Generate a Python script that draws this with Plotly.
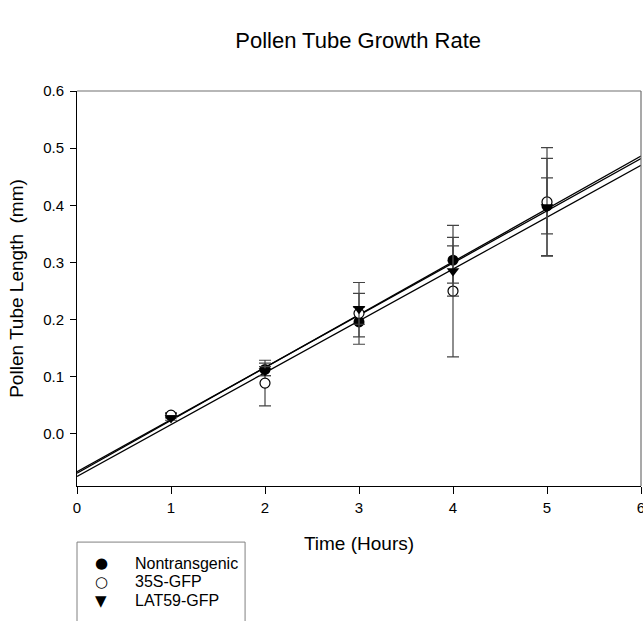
import numpy as np
import plotly.graph_objects as go

hours = [1, 2, 3, 4, 5]
nontransgenic = [0.032, 0.113, 0.196, 0.304, 0.399]
nontransgenic_err = [0.004, 0.011, 0.026, 0.040, 0.049]
gfp35s = [0.033, 0.089, 0.211, 0.250, 0.406]
gfp35s_err = [0.004, 0.040, 0.054, 0.115, 0.095]
lat59 = [0.028, 0.110, 0.219, 0.285, 0.397]
lat59_err = [0.004, 0.008, 0.027, 0.044, 0.085]

legend_names = ["Nontransgenic", "35S-GFP", "LAT59-GFP"]
legend_glyphs = ["●", "○", "▼"]

x_ticks = [0, 1, 2, 3, 4, 5, 6]
y_ticks = [0.0, 0.1, 0.2, 0.3, 0.4, 0.5, 0.6]

FONT = "Liberation Sans, Arial, sans-serif"
fig = go.Figure()

series = [
    (legend_names[0], nontransgenic, nontransgenic_err, "filled"),
    (legend_names[1], gfp35s, gfp35s_err, "open"),
    (legend_names[2], lat59, lat59_err, "tri"),
]

xfit = np.array([0, 6])
for name, ys, errs, sym in series:
    slope, icpt = np.polyfit(hours, ys, 1)
    fig.add_trace(go.Scatter(x=xfit, y=slope * xfit + icpt, mode="lines",
                             line=dict(color="black", width=1.3),
                             showlegend=False, hoverinfo="skip"))

for name, ys, errs, sym in series:
    if sym == "filled":
        marker = dict(symbol="circle", size=11, color="black")
    elif sym == "open":
        marker = dict(symbol="circle", size=10, color="white",
                      line=dict(color="black", width=1.2))
    else:
        marker = dict(symbol="triangle-down", size=11, color="black")
    fig.add_trace(go.Scatter(x=hours, y=ys, mode="markers", name=name,
                             marker=marker, showlegend=False,
                             error_y=dict(type="data", array=errs, visible=True,
                                          color="#444444", thickness=1.2, width=6)))

# Legend drawn as annotations (paper coordinates)
annotations = []
row_y = [-0.195, -0.243, -0.291]
for name, glyph, yy in zip(legend_names, legend_glyphs, row_y):
    annotations.append(dict(xref="paper", yref="paper", x=0.0426, y=yy,
                            text=glyph, showarrow=False, xanchor="center",
                            yanchor="middle",
                            font=dict(size=15, family="DejaVu Sans", color="black")))
    annotations.append(dict(xref="paper", yref="paper", x=0.0993, y=yy,
                            text=name, showarrow=False, xanchor="left",
                            yanchor="middle",
                            font=dict(size=16, family=FONT, color="black")))

fig.update_layout(
    width=643, height=621,
    margin=dict(l=77, r=2, t=91, b=135),
    paper_bgcolor="white", plot_bgcolor="white",
    font=dict(family=FONT, color="black", size=15),
    title=dict(text="Pollen Tube Growth Rate", x=0.557, xanchor="center",
               y=0.9356, yanchor="middle", font=dict(size=22, family=FONT)),
    showlegend=False,
    annotations=annotations,
    xaxis=dict(range=[0, 6], tickvals=x_ticks, showgrid=False, zeroline=False,
               automargin=False, ticklabeloverflow="allow",
               showline=True, linecolor="black", linewidth=1,
               ticks="outside", ticklen=7, tickcolor="black",
               tickfont=dict(size=15), ticklabelstandoff=1,
               title=dict(text="Time (Hours)", font=dict(size=19), standoff=21)),
    yaxis=dict(range=[-0.091, 0.6], tickvals=y_ticks, tickformat=".1f",
               showgrid=False, zeroline=False, automargin=False,
               showline=True, linecolor="black", linewidth=1,
               ticks="outside", ticklen=6, tickcolor="black",
               tickfont=dict(size=15), ticklabelstandoff=3,
               title=dict(text="Pollen Tube Length  (mm)", font=dict(size=19),
                          standoff=14)),
    shapes=[
        dict(type="line", xref="paper", yref="paper", x0=0, x1=1, y0=1, y1=1,
             line=dict(color="#707070", width=1.2)),
        dict(type="line", xref="paper", yref="paper", x0=1, x1=1, y0=0, y1=1,
             line=dict(color="#707070", width=1.2)),
        dict(type="rect", xref="paper", yref="paper", x0=0, x1=0.298,
             y0=-0.142, y1=-0.5, line=dict(color="#808080", width=1),
             fillcolor="rgba(0,0,0,0)"),
    ],
)

fig.write_html(
    "out.html",
    config={"displayModeBar": False},
    post_script="document.body.style.margin='0';document.body.style.overflow='hidden';",
)
